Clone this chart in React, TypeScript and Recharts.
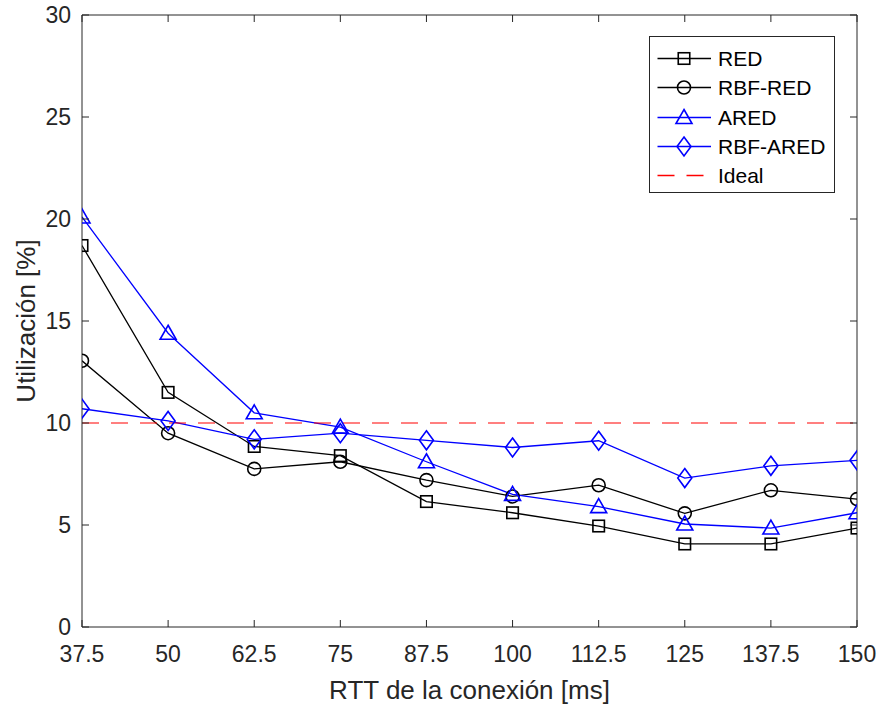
import React from 'react';
import { LineChart, Line, XAxis, YAxis, Legend, ReferenceLine } from 'recharts';

// RTT values (ms) on the x axis
const rtt = [37.5, 50, 62.5, 75, 87.5, 100, 112.5, 125, 137.5, 150];
const yTicks = [0, 5, 10, 15, 20, 25, 30];

// utilization [%] for each queue scheme
const red = [18.7, 11.5, 8.85, 8.4, 6.15, 5.6, 4.95, 4.07, 4.07, 4.85];
const rbfRed = [13.05, 9.5, 7.75, 8.1, 7.2, 6.4, 6.95, 5.57, 6.7, 6.27];
const ared = [20.1, 14.4, 10.5, 9.8, 8.1, 6.5, 5.9, 5.05, 4.85, 5.6];
const rbfAred = [10.7, 10.1, 9.2, 9.5, 9.15, 8.8, 9.13, 7.3, 7.9, 8.17];
const ideal = [10, 10, 10, 10, 10, 10, 10, 10, 10, 10];

const data = rtt.map((x, i) => ({
    rtt: x,
    red: red[i],
    rbfRed: rbfRed[i],
    ared: ared[i],
    rbfAred: rbfAred[i],
    ideal: ideal[i],
}));

const FONT = "'Liberation Sans', Arial, Helvetica, sans-serif";
const AXIS = '#262626';
const BLUE = '#0000ff';
const BLACK = '#000000';
const RED = '#ff0000';

// plot box edges (px), used for the inward tick marks
const LEFT = 82;
const RIGHT = 857;
const TOP = 15;
const BOTTOM = 627;
const TICK = 7;

type MarkerKind = 'square' | 'circle' | 'triangle' | 'diamond' | 'none';

const legendOrder = ['red', 'rbfRed', 'ared', 'rbfAred', 'ideal'];
const markerOf: Record<string, MarkerKind> = {
    red: 'square',
    rbfRed: 'circle',
    ared: 'triangle',
    rbfAred: 'diamond',
    ideal: 'none',
};

const Marker = ({ kind, cx, cy, color }: { kind: MarkerKind; cx: number; cy: number; color: string }) => {
    const common = { fill: 'none', stroke: color, strokeWidth: 1.6 };
    if (kind === 'square') {
        return <rect x={cx - 5.75} y={cy - 5.75} width={11.5} height={11.5} {...common} />;
    }
    if (kind === 'circle') {
        return <circle cx={cx} cy={cy} r={6.5} {...common} />;
    }
    if (kind === 'triangle') {
        return <polygon points={`${cx},${cy - 8} ${cx + 8},${cy + 6} ${cx - 8},${cy + 6}`} {...common} />;
    }
    if (kind === 'diamond') {
        return <polygon points={`${cx},${cy - 9.5} ${cx + 7},${cy} ${cx},${cy + 9.5} ${cx - 7},${cy}`} {...common} />;
    }
    return null;
};

const dotFor = (kind: MarkerKind, color: string) => (p: any) => (
    <Marker key={`${kind}-${p.index}`} kind={kind} cx={p.cx} cy={p.cy} color={color} />
);

// x tick: label below, inward tick marks on bottom and top edges
const XTick = (props: any) => {
    const { x, payload } = props;
    return (
        <g>
            <line x1={x} x2={x} y1={BOTTOM} y2={BOTTOM - TICK} stroke={AXIS} />
            <line x1={x} x2={x} y1={TOP} y2={TOP + TICK} stroke={AXIS} />
            <text x={x} y={BOTTOM + 35} textAnchor="middle" fill={AXIS} fontSize={23} fontFamily={FONT}>
                {payload.value}
            </text>
        </g>
    );
};

// y tick: label left, inward tick marks on left and right edges
const YTick = (props: any) => {
    const { y, payload } = props;
    return (
        <g>
            <line x1={LEFT} x2={LEFT + TICK} y1={y} y2={y} stroke={AXIS} />
            <line x1={RIGHT} x2={RIGHT - TICK} y1={y} y2={y} stroke={AXIS} />
            <text x={LEFT - 11} y={y} dy="0.36em" textAnchor="end" fill={AXIS} fontSize={23} fontFamily={FONT}>
                {payload.value}
            </text>
        </g>
    );
};

const LegendBox = (props: any) => {
    const items = [...(props.payload || [])].sort(
        (a: any, b: any) => legendOrder.indexOf(a.dataKey) - legendOrder.indexOf(b.dataKey)
    );
    return (
        <div
            style={{
                border: `1px solid ${AXIS}`,
                background: '#fff',
                boxSizing: 'border-box',
                width: 186,
                height: 157,
                padding: '7px 0 0 0',
                fontFamily: FONT,
                fontSize: 21,
                color: '#000',
            }}
        >
            {items.map((it: any) => {
                const kind = markerOf[it.dataKey] || 'none';
                return (
                    <div key={it.dataKey} style={{ display: 'flex', alignItems: 'center', height: 29.3 }}>
                        <svg width={68} height={29} style={{ flex: 'none' }}>
                            <line
                                x1={7.5}
                                x2={61}
                                y1={14.5}
                                y2={14.5}
                                stroke={it.color}
                                strokeWidth={1.3}
                                strokeDasharray={kind === 'none' ? '17 12' : undefined}
                            />
                            <Marker kind={kind} cx={34} cy={14.5} color={it.color} />
                        </svg>
                        <span style={{ lineHeight: '29px' }}>{it.value}</span>
                    </div>
                );
            })}
        </div>
    );
};

const App: React.FC = () => {
    return (
        <div style={{ position: 'absolute', left: 0, top: 0, background: '#fff' }}>
            <LineChart
                width={879}
                height={707}
                data={data}
                margin={{ top: TOP, right: 879 - RIGHT, bottom: 0, left: 0 }}
                style={{ fontFamily: FONT }}
            >
                <XAxis
                    dataKey="rtt"
                    type="number"
                    domain={[37.5, 150]}
                    allowDataOverflow
                    ticks={rtt}
                    interval={0}
                    height={707 - BOTTOM}
                    tickLine={false}
                    axisLine={{ stroke: AXIS }}
                    tick={<XTick />}
                    label={{
                        value: 'RTT de la conexión [ms]',
                        position: 'insideBottom',
                        offset: 8,
                        fill: AXIS,
                        fontSize: 26,
                        fontFamily: FONT,
                    }}
                />
                <YAxis
                    domain={[0, 30]}
                    allowDataOverflow
                    ticks={yTicks}
                    interval={0}
                    width={LEFT}
                    tickLine={false}
                    axisLine={{ stroke: AXIS }}
                    tick={<YTick />}
                    label={{
                        value: 'Utilización [%]',
                        angle: -90,
                        position: 'insideLeft',
                        offset: 26,
                        fill: AXIS,
                        fontSize: 26,
                        fontFamily: FONT,
                        style: { textAnchor: 'middle' },
                    }}
                />
                {/* top and right edges of the box */}
                <ReferenceLine y={30} stroke={AXIS} />
                <ReferenceLine x={150} stroke={AXIS} />

                <Legend
                    layout="vertical"
                    align="center"
                    verticalAlign="middle"
                    content={<LegendBox />}
                    wrapperStyle={{ position: 'absolute', left: 649, top: 36, width: 186, height: 157 }}
                />

                <Line
                    dataKey="red"
                    name="RED"
                    stroke={BLACK}
                    strokeWidth={1.3}
                    dot={dotFor('square', BLACK)}
                    activeDot={false}
                    isAnimationActive={false}
                />
                <Line
                    dataKey="rbfRed"
                    name="RBF-RED"
                    stroke={BLACK}
                    strokeWidth={1.3}
                    dot={dotFor('circle', BLACK)}
                    activeDot={false}
                    isAnimationActive={false}
                />
                <Line
                    dataKey="ared"
                    name="ARED"
                    stroke={BLUE}
                    strokeWidth={1.3}
                    dot={dotFor('triangle', BLUE)}
                    activeDot={false}
                    isAnimationActive={false}
                />
                <Line
                    dataKey="rbfAred"
                    name="RBF-ARED"
                    stroke={BLUE}
                    strokeWidth={1.3}
                    dot={dotFor('diamond', BLUE)}
                    activeDot={false}
                    isAnimationActive={false}
                />
                <Line
                    dataKey="ideal"
                    name="Ideal"
                    stroke={RED}
                    strokeWidth={1.2}
                    strokeDasharray="17 12"
                    dot={false}
                    activeDot={false}
                    isAnimationActive={false}
                />
            </LineChart>
        </div>
    );
};

export default App;
